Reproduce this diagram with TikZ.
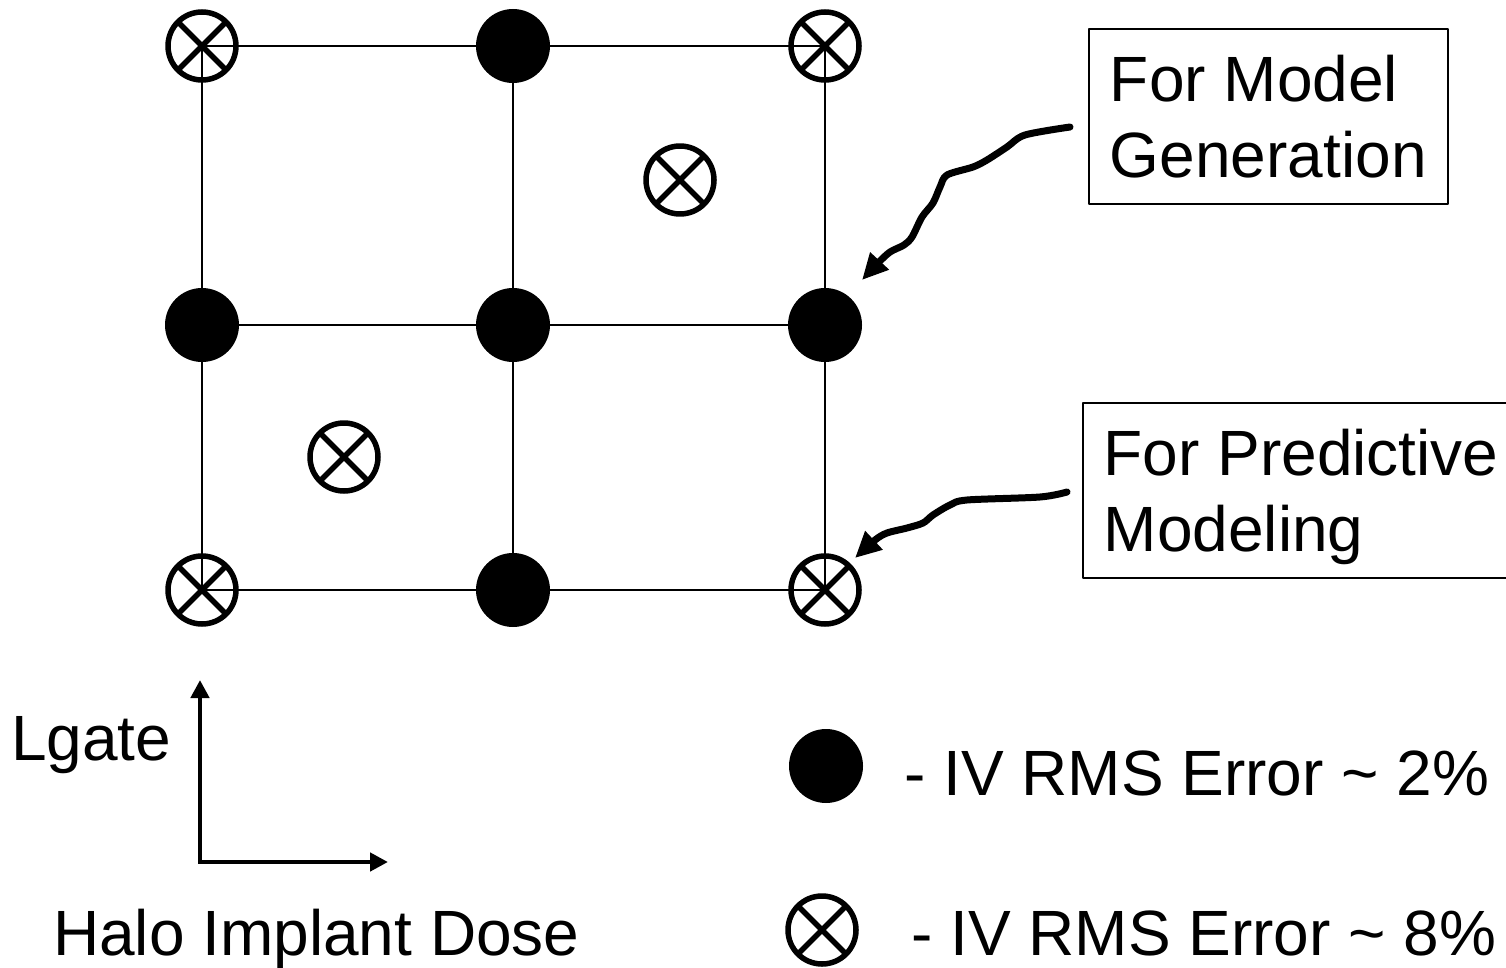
\documentclass[tikz,border=0pt]{standalone}
\usepackage{fontspec}
\setmainfont{Liberation Sans}
\usetikzlibrary{arrows.meta}

\newcommand\slidefont{\fontsize{64}{76}\selectfont}

\tikzset{
  fulldot/.style={circle, fill=black, inner sep=0pt, minimum size=74pt},
  crossdot/.style={circle, draw=black, line width=5.5pt, inner sep=0pt, minimum size=68pt,
    path picture={\draw[line width=5.5pt]
      (path picture bounding box.north west) -- (path picture bounding box.south east)
      (path picture bounding box.south west) -- (path picture bounding box.north east);}},
  gridline/.style={line width=1.6pt},
  notebox/.style={draw, line width=1.6pt, font=\slidefont, align=left, inner xsep=21pt,
    inner ysep=0pt, minimum height=175pt, text depth=0pt},
  slidetext/.style={anchor=base west, inner sep=0pt, font=\slidefont},
  wavyarrow/.style={line width=7pt, -{Triangle[length=26pt,width=24pt]}},
  axisline/.style={line width=4.5pt, line join=miter, {Triangle[length=18pt,width=18pt]}-{Triangle[length=18pt,width=18pt]}}
}

\begin{document}
\begin{tikzpicture}[x=1pt, y=-1pt, line cap=round, line join=round]

  %% ════ 网格上的点 ════
  \node[crossdot] (tl) at (202,46) {};
  \node[fulldot]  (tm) at (513,46) {};
  \node[crossdot] (tr) at (825,46) {};
  \node[fulldot]  (ml) at (202,325) {};
  \node[fulldot]  (mm) at (513,325) {};
  \node[fulldot]  (mr) at (825,325) {};
  \node[crossdot] (bl) at (202,590) {};
  \node[fulldot]  (bm) at (513,590) {};
  \node[crossdot] (br) at (825,590) {};
  \node[crossdot] (qa) at (680,180) {};
  \node[crossdot] (qb) at (344,457) {};

  %% ════ 网格线（画在点之后，穿过空心符号）════
  \draw[gridline] (tl.center) -- (tm.center) -- (tr.center);
  \draw[gridline] (ml.center) -- (mm.center) -- (mr.center);
  \draw[gridline] (bl.center) -- (bm.center) -- (br.center);
  \draw[gridline] (tl.center) -- (ml.center) -- (bl.center);
  \draw[gridline] (tm.center) -- (mm.center) -- (bm.center);
  \draw[gridline] (tr.center) -- (mr.center) -- (br.center);

  %% ════ 说明框 ════
  \node[notebox, anchor=north west, minimum width=359pt] (genbox) at (1088,28) {For Model\\Generation};
  \node[notebox, anchor=north west] (predbox) at (1082,402) {For Predictive\\Modeling};

  %% ════ 弯曲箭头 ════
  \coordinate (genstart) at (1070,127);
  \coordinate (gentip) at (862,280);
  \draw[wavyarrow] plot[smooth, tension=0.5] coordinates {(genstart) (1025,135) (1007,147) (987,160)
    (973,167) (947,175) (940,187) (933,203) (922,217) (912,237) (904,245) (890,252) (878,263) (gentip)};
  \coordinate (predstart) at (1067,492);
  \coordinate (predtip) at (855,558);
  \draw[wavyarrow] plot[smooth, tension=0.5] coordinates {(predstart) (1040,497) (967,500) (950,505)
    (933,515) (923,523) (907,528) (887,533) (875,540) (predtip)};

  %% ════ 坐标轴 ════
  \coordinate (ytip) at (200,680);
  \coordinate (xtip) at (388,862);
  \draw[axisline] (ytip) |- (xtip);
  \node[slidetext] (lgate) at (11,760) {Lgate};
  \node[slidetext] (halo) at (53,955) {Halo Implant Dose};

  %% ════ 图例 ════
  \node[fulldot]  (keyfull) at (826,766) {};
  \node[crossdot] (keycross) at (822,930) {};
  \node[slidetext] (keyfulltext) at (904,795) {- IV RMS Error \textasciitilde{} 2\%};
  \node[slidetext] (keycrosstext) at (911,955) {- IV RMS Error \textasciitilde{} 8\%};

  % 钉死画布
  \pgfresetboundingbox
  \path[use as bounding box] (0,0) rectangle (1506,968);
\end{tikzpicture}
\end{document}
